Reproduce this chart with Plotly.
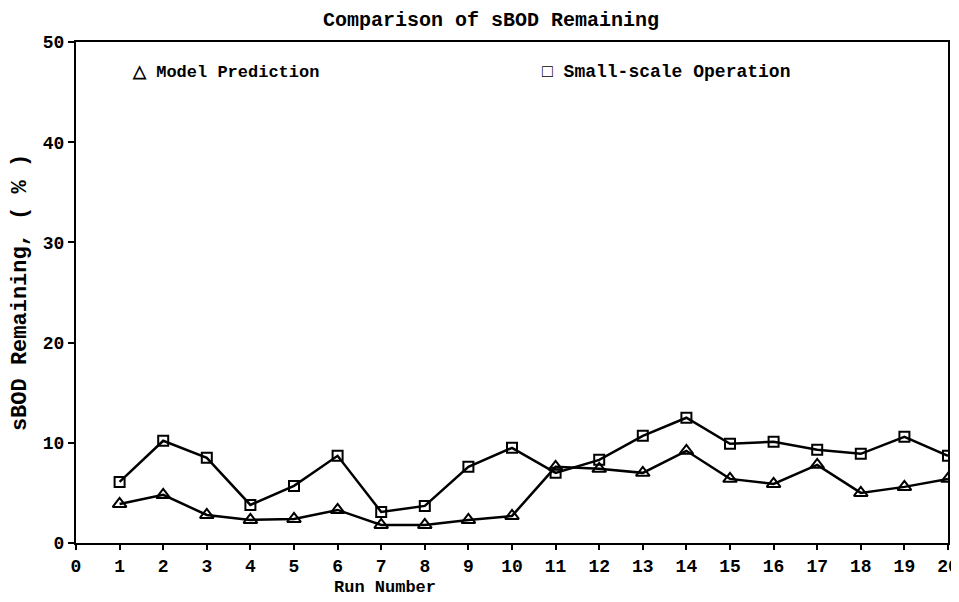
import plotly.graph_objects as go

runs = list(range(1, 21))
model_prediction = [3.9, 4.8, 2.8, 2.3, 2.4, 3.3, 1.8, 1.8, 2.3, 2.7,
                    7.6, 7.4, 7.0, 9.2, 6.4, 5.9, 7.8, 5.0, 5.6, 6.4]
small_scale = [6.1, 10.2, 8.5, 3.8, 5.7, 8.7, 3.1, 3.7, 7.6, 9.5,
               7.0, 8.3, 10.7, 12.5, 9.9, 10.1, 9.3, 8.9, 10.6, 8.7]
x_ticks = list(range(0, 21))
y_ticks = [0, 10, 20, 30, 40, 50]

FONT = "Liberation Mono"

fig = go.Figure()
fig.add_trace(go.Scatter(
    x=runs, y=model_prediction, mode="lines+markers", name="Model Prediction",
    line=dict(color="black", width=2.5),
    marker=dict(symbol="triangle-up-open", size=12, color="black", line=dict(width=2)),
))
fig.add_trace(go.Scatter(
    x=runs, y=small_scale, mode="lines+markers", name="Small-scale Operation",
    line=dict(color="black", width=2.5),
    marker=dict(symbol="square-open", size=10, color="black", line=dict(width=2)),
))

# page body has an 8px margin, so the figure is sized/offset to compensate
fig.update_layout(
    width=951, height=594,
    margin=dict(l=68, r=11, t=34, b=59, autoexpand=False),
    paper_bgcolor="white", plot_bgcolor="white",
    showlegend=False,
    font=dict(family=FONT, color="black", size=16, weight="bold"),
    title=dict(text="Comparison of sBOD Remaining", x=0.508, xanchor="center",
               y=0.982, yanchor="middle",
               font=dict(family=FONT, size=20, color="black", weight="bold")),
)
fig.update_xaxes(
    range=[0, 20], tickvals=x_ticks, ticktext=[str(v) for v in x_ticks],
    automargin=False,
    showgrid=False, zeroline=False, showline=True, linecolor="black", linewidth=2,
    mirror=True, ticks="outside", ticklen=5, tickwidth=1.5, tickcolor="black",
    tickfont=dict(family=FONT, size=18, color="black", weight="bold"),
)
fig.update_yaxes(
    range=[0, 50], tickvals=y_ticks, ticktext=[str(v) for v in y_ticks],
    automargin=False,
    showgrid=False, zeroline=False, showline=True, linecolor="black", linewidth=2,
    mirror=True, ticks="outside", ticklen=6, tickwidth=1.5, tickcolor="black",
    tickfont=dict(family=FONT, size=18, color="black", weight="bold"),
    title=dict(text="sBOD Remaining, ( % )", standoff=20,
               font=dict(family=FONT, size=22, color="black", weight="bold")),
)

fig.add_annotation(text="Run Number", xref="paper", yref="paper",
                   x=0.354, y=-0.088, xanchor="center", yanchor="middle",
                   showarrow=False,
                   font=dict(family=FONT, size=17, color="black", weight="bold"))
fig.add_annotation(text="△ Model Prediction", xref="paper", yref="paper",
                   x=0.062, y=0.94, xanchor="left", yanchor="middle",
                   showarrow=False,
                   font=dict(family=FONT, size=17, color="black", weight="bold"))
fig.add_annotation(text="□ Small-scale Operation", xref="paper", yref="paper",
                   x=0.532, y=0.94, xanchor="left", yanchor="middle",
                   showarrow=False,
                   font=dict(family=FONT, size=18, color="black", weight="bold"))

fig.write_html("out.html")
